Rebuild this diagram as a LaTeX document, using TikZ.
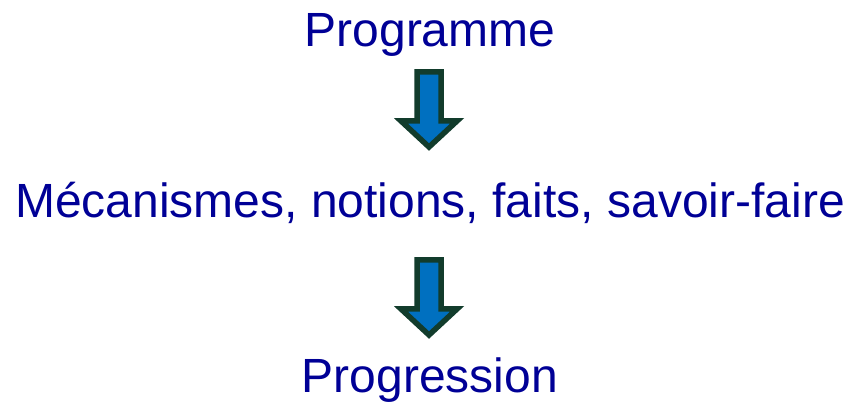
\documentclass[tikz,border=0pt]{standalone}
\usepackage{fontspec}
\setmainfont{Liberation Sans}
\usepackage{tikz}

\definecolor{textblue}{RGB}{0,0,150}
\definecolor{arrowblue}{RGB}{0,112,192}
\definecolor{arrowedge}{RGB}{18,60,44}

\begin{document}
\begin{tikzpicture}[x=1pt,y=1pt,
  every node/.style={inner sep=0pt, outer sep=0pt, text=textblue, font=\fontsize{48}{58}\selectfont},
  downarrow/.style={fill=arrowblue, draw=arrowedge, line width=5.5pt, line join=miter}]
\useasboundingbox (0,0) rectangle (850,401);

\node[anchor=base] (prog) at (430,354) {Programme};
\node[anchor=base] (meca) at (430,183) {Mécanismes, notions, faits, savoir-faire};
\node[anchor=base] (progr) at (430,9) {Progression};

% arrows between the lines
\coordinate (a1) at (429,329);
\coordinate (a2) at (429,141);
\draw[downarrow] (a1) ++(-12,0) -- ++(0,-49) -- ++(-16,0) -- ++(28,-26) -- ++(28,26) -- ++(-16,0) -- ++(0,49) -- cycle;
\draw[downarrow] (a2) ++(-12,0) -- ++(0,-49) -- ++(-16,0) -- ++(28,-26) -- ++(28,26) -- ++(-16,0) -- ++(0,49) -- cycle;
\end{tikzpicture}
\end{document}
